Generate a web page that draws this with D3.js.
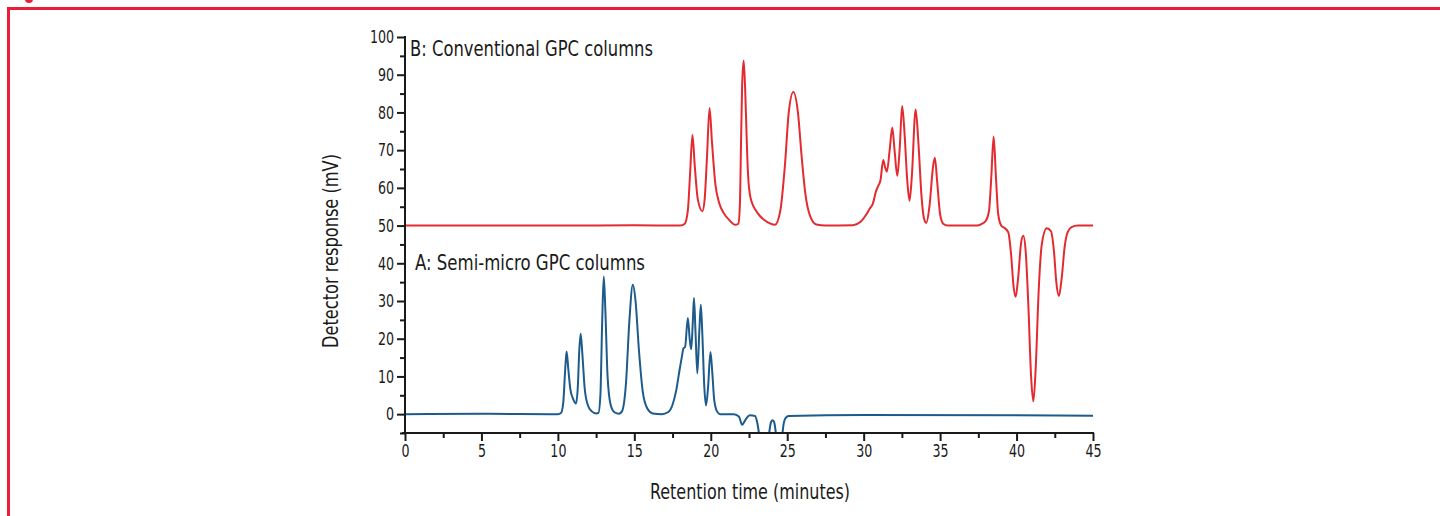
<!DOCTYPE html>
<html>
<head>
<meta charset="utf-8">
<script src="https://cdn.jsdelivr.net/npm/d3@7"></script>
<style>
  html, body { margin: 0; padding: 0; background: #fff; }
  svg { display: block; }
  .cond { font-family: "Liberation Sans Narrow", "DejaVu Sans Condensed", "Roboto", sans-serif; }
</style>
</head>
<body>
<svg id="grafico"></svg>
<script>
// Retention time (min) / response (mV)
var tiemposB = [0,10,15,18.0,18.3,18.5,18.65,18.8,18.95,19.15,19.45,19.6,19.75,19.92,20.08,20.3,20.55,20.85,21.2,21.6,21.8,21.9,21.98,22.05,22.15,22.25,22.32,22.39,22.47,22.57,22.7,22.9,23.2,23.5,23.9,24.2,24.55,24.85,25.1,25.4,25.7,25.95,26.2,26.5,26.9,27.5,29.3,29.8,30.15,30.4,30.6,30.8,30.95,31.1,31.28,31.4,31.52,31.7,31.87,32.02,32.2,32.35,32.52,32.68,32.85,33.0,33.15,33.4,33.58,33.78,33.95,34.1,34.3,34.55,34.66,34.8,35.0,35.2,35.5,37.4,37.7,37.98,38.2,38.35,38.5,38.65,38.8,39.0,39.2,39.46,39.65,39.8,39.94,40.1,40.3,40.44,40.6,40.78,40.95,41.1,41.25,41.45,41.65,41.97,42.25,42.45,42.6,42.77,42.95,43.15,43.35,43.6,44,45];
var valoresB = [50,50,50.1,50,50.5,54,64,74,66,57,53.8,57,68,81.2,72,61,56,53.3,51.5,50.2,50.5,55,72,87,93.8,86,77,68,61.5,58,56,54.3,52.6,51.5,50.5,50.2,54,66,80,85.4,80,68,58,52.5,50.3,50,50.1,51,52.8,54.5,55.8,59,60.5,62,67.4,65.5,64.3,70,76,70,63.2,70,81.7,74,62,56.6,63,80.8,72,58,51.8,50.7,55,66,68,62,53,50.5,50,50,50.4,51.2,54,63,73.6,63,53,50,49.4,48.2,42,34,31.1,36,45.5,47.3,43,28,10,3.4,12,33,45,49.3,48.5,43,35,31.3,36,44.5,48.3,49.6,50,50];

var tiemposA = [0,5,10,10.2,10.35,10.48,10.57,10.68,10.82,11.0,11.18,11.3,11.4,11.49,11.6,11.75,11.95,12.2,12.5,12.65,12.78,12.9,13.0,13.1,13.25,13.45,13.7,14.0,14.2,14.45,14.68,14.9,15.08,15.3,15.55,15.85,16.2,16.8,17.2,17.5,17.75,17.95,18.1,18.22,18.32,18.5,18.62,18.72,18.82,18.9,19.0,19.12,19.25,19.35,19.45,19.58,19.69,19.82,19.98,20.1,20.22,20.4,20.6,21.5,21.85,22.05,22.3,22.55,22.9,23.05,23.25,23.5,23.7,23.82,23.95,24.05,24.15,24.28,24.45,24.62,24.75,24.9,25.1,30,40,45];
var valoresA = [0,0.1,0,0.3,3,12,16.6,12,6.5,4,2.8,7,17,21.3,16,7,2.5,0.8,0.2,0.3,5,25,36.5,28,10,2.5,0.5,0.1,0.8,8,25,34.3,30,17,6,1.5,0.2,0,0.5,2.5,6.5,11.5,15,17.5,17.8,25.5,20,17.2,24,30.8,22,10.8,22,29,21,7,2.3,7,16.5,11,4,0.8,0,0,-0.7,-2.8,-1.3,-0.3,-0.5,-2.5,-8,-15,-10,-5,-2,-1.6,-2.2,-6,-15,-8,-3,-1,-0.5,-0.2,-0.3,-0.4];

var ticksX = [0, 5, 10, 15, 20, 25, 30, 35, 40, 45];
var ticksY = [0, 10, 20, 30, 40, 50, 60, 70, 80, 90, 100];
var etiquetaB = "B: Conventional GPC columns";
var etiquetaA = "A: Semi-micro GPC columns";

var anchura = 1440, altura = 516;
var margen = { izq: 405, der: 1093, arriba: 37, abajo: 433 };

var svg = d3.select("#grafico").attr("width", anchura).attr("height", altura);

// marco rojo de la figura
svg.append("rect")
    .attr("x", 8.5).attr("y", 8.5)
    .attr("width", anchura + 20).attr("height", altura + 20)
    .attr("fill", "none").attr("stroke", "#ec1c3c").attr("stroke-width", 3);
svg.append("circle").attr("cx", 29).attr("cy", -1).attr("r", 4).attr("fill", "#ec1c3c");

var x = d3.scaleLinear().domain([0, 45]).range([margen.izq, margen.der]);
var y = d3.scaleLinear().domain([-5, 100]).range([margen.abajo, margen.arriba]);

svg.append("clipPath").attr("id", "recorte")
    .append("rect")
    .attr("x", margen.izq).attr("y", 0)
    .attr("width", margen.der - margen.izq + 2).attr("height", margen.abajo);

var linea = d3.line()
    .x(function (d) { return x(d[0]); })
    .y(function (d) { return y(d[1]); })
    .curve(d3.curveMonotoneX);

var datosA = tiemposA.map(function (t, i) { return [t, valoresA[i]]; });
var datosB = tiemposB.map(function (t, i) { return [t, valoresB[i]]; });

var trazos = svg.append("g").attr("clip-path", "url(#recorte)");
trazos.append("path").datum(datosB)
    .attr("d", linea).attr("fill", "none")
    .attr("stroke", "#e52a2f").attr("stroke-width", 2).attr("stroke-linejoin", "round");
trazos.append("path").datum(datosA)
    .attr("d", linea).attr("fill", "none")
    .attr("stroke", "#1d5b8c").attr("stroke-width", 2).attr("stroke-linejoin", "round");

//Estrechar un texto (la fuente original es condensada)
function comprimir(sel, factor) {
    sel.each(function () {
        var w = this.getComputedTextLength();
        d3.select(this).attr("textLength", w * factor).attr("lengthAdjust", "spacingAndGlyphs");
    });
}

// ejes
var ejeX = d3.axisBottom(x).tickValues(ticksX).tickSize(8).tickSizeOuter(0).tickPadding(3);
var ejeXmenor = d3.axisBottom(x).tickValues(ticksX.slice(0, -1).map(function (t) { return t + 2.5; }))
    .tickSize(5).tickSizeOuter(0).tickFormat("");
var ejeY = d3.axisLeft(y).tickValues(ticksY).tickSize(8).tickSizeOuter(0).tickPadding(3);
var ejeYmenor = d3.axisLeft(y).tickValues(ticksY.map(function (t) { return t - 5; }))
    .tickSize(5).tickSizeOuter(0).tickFormat("");

function estilo(g) {
    g.select(".domain").remove();
    g.selectAll("line").attr("stroke", "#1a1a1a").attr("stroke-width", 2);
    g.selectAll("text").attr("class", "cond").attr("font-size", 18).attr("fill", "#1a1a1a");
    comprimir(g.selectAll("text"), 0.78);
}

svg.append("g").attr("transform", "translate(0," + margen.abajo + ")").call(ejeXmenor).call(estilo);
svg.append("g").attr("transform", "translate(0," + margen.abajo + ")").call(ejeX).call(estilo);
svg.append("g").attr("transform", "translate(" + margen.izq + ",0)").call(ejeYmenor).call(estilo);
svg.append("g").attr("transform", "translate(" + margen.izq + ",0)").call(ejeY).call(estilo);

svg.append("line")
    .attr("x1", margen.izq - 3).attr("x2", margen.der + 1)
    .attr("y1", margen.abajo).attr("y2", margen.abajo)
    .attr("stroke", "#1a1a1a").attr("stroke-width", 2);
svg.append("line")
    .attr("x1", margen.izq).attr("x2", margen.izq)
    .attr("y1", margen.arriba - 1).attr("y2", margen.abajo)
    .attr("stroke", "#1a1a1a").attr("stroke-width", 2);

// titulos
svg.append("text").attr("class", "cond")
    .attr("x", 750).attr("y", 499)
    .attr("text-anchor", "middle").attr("font-size", 21).attr("fill", "#1a1a1a")
    .attr("textLength", 200).attr("lengthAdjust", "spacingAndGlyphs")
    .text("Retention time (minutes)");
svg.append("text").attr("class", "cond")
    .attr("transform", "translate(338,251) rotate(-90)")
    .attr("text-anchor", "middle").attr("font-size", 21).attr("fill", "#1a1a1a")
    .attr("textLength", 194).attr("lengthAdjust", "spacingAndGlyphs")
    .text("Detector response (mV)");

svg.append("text").attr("class", "cond")
    .attr("x", 410).attr("y", 56).attr("font-size", 21).attr("fill", "#1a1a1a")
    .attr("textLength", 243).attr("lengthAdjust", "spacingAndGlyphs")
    .text(etiquetaB);
svg.append("text").attr("class", "cond")
    .attr("x", 415).attr("y", 270).attr("font-size", 21).attr("fill", "#1a1a1a")
    .attr("textLength", 230).attr("lengthAdjust", "spacingAndGlyphs")
    .text(etiquetaA);
</script>
</body>
</html>
